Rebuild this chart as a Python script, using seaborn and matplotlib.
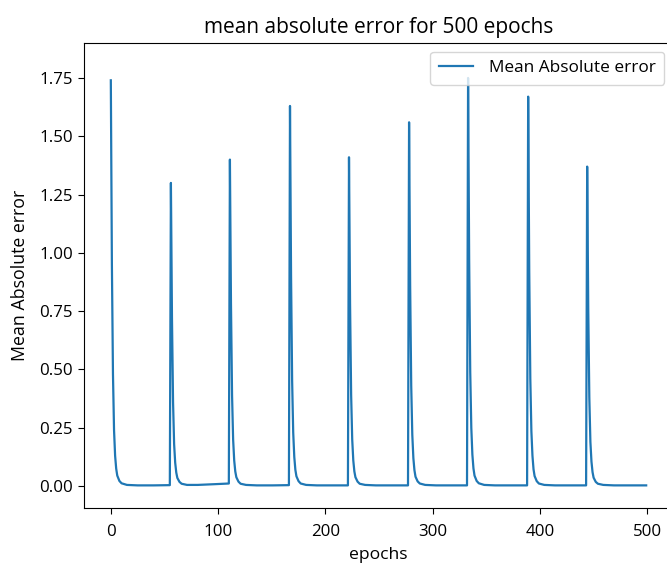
import matplotlib
matplotlib.use("Agg")
import matplotlib.pyplot as plt
import seaborn as sns
import pandas as pd

# epochs sampled around each spike (sparse points, line connects them)
epochs = [
    0, 1, 2, 3, 4, 5, 6, 8, 10, 15, 25, 40, 55,
    56, 57, 58, 59, 60, 61, 62, 64, 66, 71, 81, 96, 110,
    111, 112, 113, 114, 115, 116, 117, 119, 121, 126, 136, 151, 166,
    167, 168, 169, 170, 171, 172, 173, 175, 177, 182, 192, 207, 221,
    222, 223, 224, 225, 226, 227, 228, 230, 232, 237, 247, 262, 277,
    278, 279, 280, 281, 282, 283, 284, 286, 288, 293, 303, 318, 332,
    333, 334, 335, 336, 337, 338, 339, 341, 343, 348, 358, 373, 388,
    389, 390, 391, 392, 393, 394, 395, 397, 399, 404, 414, 429, 443,
    444, 445, 446, 447, 448, 449, 450, 452, 454, 459, 469, 484, 499,
]
mae = [
    1.74, 0.95, 0.48, 0.24, 0.13, 0.075, 0.045, 0.022, 0.012, 0.005, 0.003, 0.003, 0.004,
    1.30, 0.72, 0.36, 0.18, 0.10, 0.058, 0.035, 0.018, 0.010, 0.005, 0.005, 0.008, 0.011,
    1.40, 0.78, 0.39, 0.20, 0.11, 0.063, 0.038, 0.019, 0.010, 0.005, 0.003, 0.003, 0.004,
    1.63, 0.90, 0.45, 0.23, 0.125, 0.070, 0.042, 0.021, 0.011, 0.005, 0.003, 0.003, 0.003,
    1.41, 0.78, 0.39, 0.20, 0.11, 0.063, 0.038, 0.019, 0.010, 0.005, 0.003, 0.003, 0.003,
    1.56, 0.86, 0.43, 0.22, 0.12, 0.068, 0.040, 0.020, 0.011, 0.005, 0.003, 0.003, 0.003,
    1.75, 0.97, 0.49, 0.25, 0.135, 0.076, 0.045, 0.022, 0.012, 0.005, 0.003, 0.003, 0.003,
    1.67, 0.92, 0.46, 0.235, 0.13, 0.072, 0.043, 0.021, 0.011, 0.005, 0.003, 0.003, 0.003,
    1.37, 0.76, 0.38, 0.19, 0.105, 0.060, 0.036, 0.018, 0.010, 0.005, 0.003, 0.003, 0.003,
]

title = "mean absolute error for 500 epochs"
xlabel = "epochs"
ylabel = "Mean Absolute error"
series_label = "Mean Absolute error"

df = pd.DataFrame({"epochs": epochs, "mae": mae})

plt.rcParams["font.family"] = ["Open Sans", "DejaVu Sans"]

fig = plt.figure(figsize=(6.67, 5.63), dpi=100)
ax = fig.add_axes([84 / 667, 1 - 508 / 563, (673 - 84) / 667, (508 - 43) / 563])

sns.lineplot(data=df, x="epochs", y="mae", ax=ax, color="#1f77b4",
             linewidth=1.6, label=series_label)

ax.set_xlim(-25, 524)
ax.set_ylim(-0.094, 1.90)
ax.set_xticks([0, 100, 200, 300, 400, 500])
ax.set_yticks([0, 0.25, 0.5, 0.75, 1.0, 1.25, 1.5, 1.75])
ax.set_yticklabels(["0.00", "0.25", "0.50", "0.75", "1.00", "1.25", "1.50", "1.75"])
ax.set_title(title, fontsize=15, pad=7)
ax.set_xlabel(xlabel, fontsize=12.6, labelpad=5)
ax.set_ylabel(ylabel, fontsize=12.8, labelpad=7.5)
ax.tick_params(axis="x", labelsize=12.2, pad=7, length=4.5)
ax.tick_params(axis="y", labelsize=12.2, pad=3.5, length=4.5)
ax.legend(loc="upper right", fontsize=12.4, borderpad=0.5, handlelength=2.0,
          handletextpad=0.9)

fig.savefig("out.png", dpi=100)
